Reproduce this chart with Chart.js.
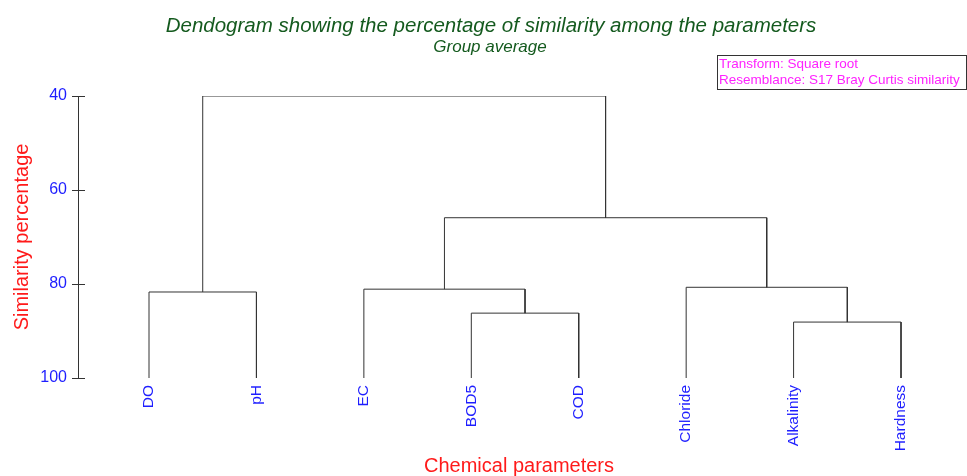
<!DOCTYPE html>
<html>
<head>
<meta charset="utf-8">
<script src="https://cdn.jsdelivr.net/npm/chart.js@4"></script>
<style>
	body { margin: 0; background: #fff; }
	#wrap { width: 967px; height: 476px; position: relative; }
</style>
</head>
<body>
<div id="wrap"><canvas id="dendro"></canvas></div>
<script>
// leaves, left to right
const leaves = ['DO', 'pH', 'EC', 'BOD5', 'COD', 'Chloride', 'Alkalinity', 'Hardness'];

// linkage: node 8 onwards is made by joining mergeLeft[i] and mergeRight[i] at mergeHeight[i]
const mergeLeft = [0, 3, 2, 6, 5, 10, 8];
const mergeRight = [1, 4, 9, 7, 11, 12, 13];
const mergeHeight = [81.7, 86.2, 81.1, 88.1, 80.7, 65.9, 40.0];

const yTicks = [40, 60, 80, 100];
const titleText = 'Dendogram showing the percentage of similarity among the parameters';
const subtitleText = 'Group average';
const infoLines = ['Transform: Square root', 'Resemblance: S17 Bray Curtis similarity'];

const FONT = "'Liberation Sans', Arial, sans-serif";
const LINE = '#333333';
const BLUE = '#1e1eff';
const RED = '#ff1a1a';
const GREEN = '#145a1e';

// position and height of every node, leaves first
const nodeX = leaves.map((l, i) => i);
const nodeY = leaves.map(() => 100);
const links = [];
for (let i = 0; i < mergeLeft.length; i++) {
	const a = mergeLeft[i], b = mergeRight[i], h = mergeHeight[i];
	links.push([
		{x: nodeX[a], y: nodeY[a]},
		{x: nodeX[a], y: h},
		{x: nodeX[b], y: h},
		{x: nodeX[b], y: nodeY[b]}
	]);
	nodeX.push((nodeX[a] + nodeX[b]) / 2);
	nodeY.push(h);
}

const innerTicks = {
	id: 'innerTicks',
	afterDraw(chart) {
		const ctx = chart.ctx, y = chart.scales.y, x0 = chart.chartArea.left;
		ctx.save();
		ctx.strokeStyle = LINE;
		ctx.lineWidth = 1;
		yTicks.forEach(v => {
			const py = Math.round(y.getPixelForValue(v)) + 0.5;
			ctx.beginPath();
			ctx.moveTo(x0, py);
			ctx.lineTo(x0 + 7, py);
			ctx.stroke();
		});
		ctx.restore();
	}
};

// titles and the info box sit in the top margin
const headers = {
	id: 'headers',
	afterDraw(chart) {
		const ctx = chart.ctx;
		ctx.save();
		ctx.textAlign = 'center';
		ctx.textBaseline = 'middle';
		ctx.fillStyle = GREEN;
		ctx.font = 'italic 20.5px ' + FONT;
		ctx.fillText(titleText, 491, 26);
		ctx.font = 'italic 17px ' + FONT;
		ctx.fillText(subtitleText, 490, 47);

		ctx.strokeStyle = '#333';
		ctx.lineWidth = 1;
		ctx.strokeRect(717.5, 55.5, 249, 34);
		ctx.textAlign = 'left';
		ctx.fillStyle = '#ff22ff';
		ctx.font = '13.5px ' + FONT;
		ctx.fillText(infoLines[0], 719, 64);
		ctx.fillText(infoLines[1], 719, 80);
		ctx.restore();
	}
};

new Chart('dendro', {
	type: 'scatter',
	data: {
		datasets: links.map(pts => ({
			data: pts,
			showLine: true,
			borderColor: LINE,
			borderWidth: 1,
			pointRadius: 0,
			tension: 0,
			fill: false
		}))
	},
	options: {
		responsive: true,
		maintainAspectRatio: false,
		animation: false,
		layout: { padding: { left: 0, right: 7, top: 96, bottom: 0 } },
		plugins: {
			legend: { display: false },
			tooltip: { enabled: false }
		},
		scales: {
			x: {
				type: 'linear',
				min: -0.661,
				max: 7.549,
				afterBuildTicks: scale => { scale.ticks = leaves.map((l, i) => ({value: i})); },
				afterFit: scale => { scale.height = 98; },
				grid: { display: false, drawTicks: false },
				border: { display: false },
				ticks: {
					autoSkip: false,
					minRotation: 90,
					maxRotation: 90,
					padding: 7,
					color: BLUE,
					font: { family: FONT, size: 15.5 },
					callback: v => leaves[v]
				},
				title: {
					display: true,
					text: 'Chemical parameters',
					color: RED,
					font: { family: FONT, size: 20, lineHeight: 1 },
					padding: { top: 0, bottom: 0 }
				}
			},
			y: {
				type: 'linear',
				reverse: true,
				min: 40,
				max: 100,
				afterBuildTicks: scale => { scale.ticks = yTicks.map(v => ({value: v})); },
				afterFit: scale => { scale.width = 78; },
				grid: { display: true, drawOnChartArea: false, drawTicks: true, tickLength: 6, color: LINE },
				border: { display: true, color: LINE },
				ticks: {
					padding: 5,
					color: BLUE,
					font: { family: FONT, size: 16 }
				},
				title: {
					display: true,
					text: 'Similarity percentage',
					color: RED,
					font: { family: FONT, size: 20 },
					padding: { top: 10.5, bottom: 6 }
				}
			}
		}
	},
	plugins: [innerTicks, headers]
});
</script>
</body>
</html>
